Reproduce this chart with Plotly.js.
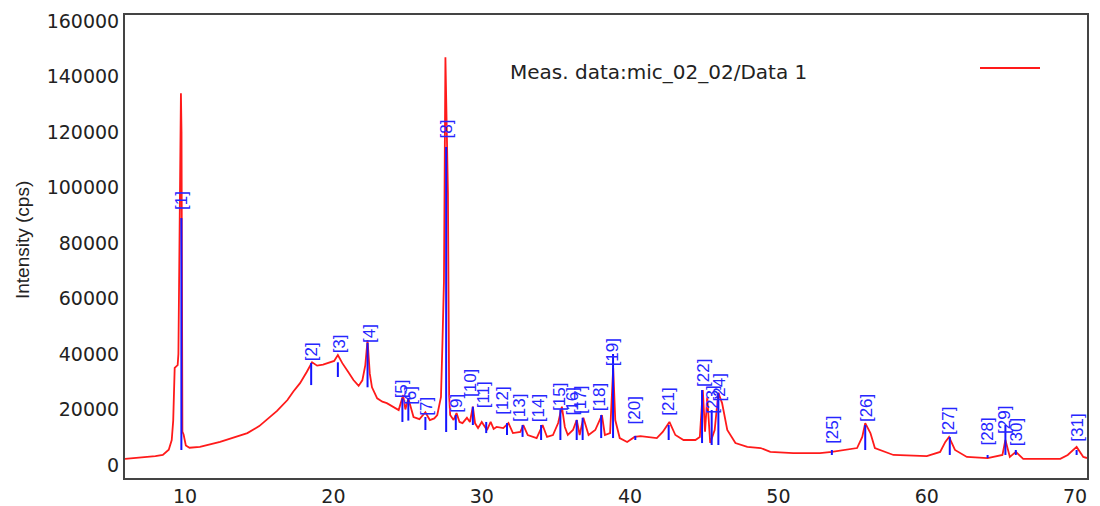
<!DOCTYPE html>
<html>
<head>
<meta charset="utf-8">
<script src="https://cdn.plot.ly/plotly-3.0.1.min.js"></script>
<style>
html,body{margin:0;padding:0;background:#fff;}
#chart{width:1100px;height:506px;}
</style>
</head>
<body>
<div id="chart"></div>
<script>
// Measured profile (2theta, intensity)
const twoTheta = [5.95,7.0,8.0,8.5,8.9,9.1,9.2,9.3,9.5,9.55,9.62,9.68,9.72,9.76,9.8,9.82,9.9,10.05,10.3,11.0,12.36,13.3,14.2,15.0,15.5,16.2,16.9,17.3,17.75,18.0,18.2,18.56,18.9,19.3,19.6,20.05,20.3,20.6,21.0,21.35,21.7,21.95,22.15,22.3,22.45,22.6,22.95,23.3,23.6,24.0,24.4,24.7,24.85,25.05,25.4,25.8,26.2,26.5,26.8,27.0,27.25,27.35,27.45,27.55,27.65,27.72,27.8,27.87,28.1,28.3,28.5,28.7,29.0,29.2,29.4,29.55,29.75,30.0,30.35,30.6,30.8,31.0,31.45,31.8,32.1,32.6,32.8,33.1,33.7,34.1,34.4,34.8,35.15,35.4,35.6,35.8,36.15,36.4,36.6,36.85,37.2,37.65,38.1,38.3,38.65,38.86,39.0,39.3,39.8,40.3,40.7,41.15,41.8,42.2,42.65,43.05,43.6,44.4,44.7,44.9,45.05,45.2,45.4,45.7,45.95,46.2,46.55,47.1,47.9,48.8,49.45,51.0,52.8,53.6,55.3,55.65,55.85,56.2,56.5,57.75,60.0,60.9,61.25,61.5,61.9,62.7,64.1,65.1,65.3,65.6,66.0,66.5,69.0,69.5,70.1,70.55,70.8];
const intensity = [2200,2600,3200,3600,5500,9000,16000,35000,36000,40000,80000,134000,134000,120000,60000,12000,11000,7000,6200,6500,8300,9800,11500,14000,16200,19500,23400,26500,29500,32000,33500,37000,35800,36200,36700,37500,39600,36700,33500,30600,28500,30500,36000,45000,33000,28000,24000,22800,22300,21000,19800,25200,20000,24000,17300,16500,19000,16200,16800,18000,24500,44000,66000,147000,120000,98000,25000,18000,16200,18700,15500,15100,17000,15500,21000,15000,13300,15500,12600,15500,13000,13700,13300,15100,11500,11900,14400,10800,9700,14400,10100,10800,15100,21000,13700,10800,12600,16200,10800,17000,10800,12600,18000,10800,11500,35000,16200,9700,8300,10100,10400,10100,9700,11900,15500,10800,9000,9000,10100,27000,12000,24500,7900,12600,26000,22300,12600,7900,6500,6100,4700,4300,4300,4700,6100,10100,15100,11500,6100,3600,3200,4700,8300,10100,5400,2900,2500,3600,9000,2900,4700,2200,2200,3600,6500,2900,2500];

// Identified peak markers
const peakLabels = ["[1]","[2]","[3]","[4]","[5]","[6]","[7]","[8]","[9]","[10]","[11]","[12]","[13]","[14]","[15]","[16]","[17]","[18]","[19]","[20]","[21]","[22]","[23]","[24]","[25]","[26]","[27]","[28]","[29]","[30]","[31]"];
const peakPos = [9.75,18.5,20.3,22.3,24.65,25.05,26.2,27.6,28.25,29.4,30.3,31.7,32.75,34.0,35.3,36.4,36.8,38.05,38.85,40.35,42.6,44.85,45.5,45.95,53.6,55.85,61.55,64.1,65.3,66.0,70.1];
const stickTop = [89000,36800,37000,44000,24000,24000,17300,114600,18000,21000,15500,15100,14400,14400,20000,16200,17000,18000,40000,10500,14400,27000,19800,26000,5400,14400,10100,3600,14400,5400,5400];
const stickBottom = [5400,28800,31700,28000,15500,16000,12600,11900,12600,14400,11500,10800,10100,9000,9000,9000,9000,9700,9700,9000,9000,7900,7200,7200,3600,5400,3600,2500,3600,3600,3600];
const labelPos = [9.72,18.5,20.4,22.4,24.65,25.15,26.3,27.6,28.3,29.2,30.1,31.4,32.5,33.8,35.25,36.1,36.7,37.9,38.8,40.3,42.6,44.95,45.5,46.0,53.6,55.9,61.5,64.1,65.2,66.1,70.1];
const labelHeight = [95500,40700,43600,47200,27400,25200,21300,121000,22300,29500,25200,23000,20500,20500,24400,23000,23500,24400,40700,19500,22700,33000,23400,28000,12600,20500,15900,11900,16200,11900,13300];

const xTicks = [10,20,30,40,50,60,70];
const yTicks = [0,20000,40000,60000,80000,100000,120000,140000,160000];
const legendText = "Meas. data:mic_02_02/Data 1";
const yTitle = "Intensity (cps)";

const sx = [], sy = [];
for (let i = 0; i < peakPos.length; i++) {
  sx.push(peakPos[i], peakPos[i], null);
  sy.push(stickBottom[i], stickTop[i], null);
}

const traces = [
  {x: twoTheta, y: intensity, type: 'scatter', mode: 'lines',
   line: {color: '#ff1a1a', width: 1.8}, hoverinfo: 'skip', showlegend: false},
  {x: sx, y: sy, type: 'scatter', mode: 'lines',
   line: {color: '#1414ff', width: 2}, hoverinfo: 'skip', showlegend: false}
];

const annotations = peakLabels.map((t, i) => ({
  x: labelPos[i], y: labelHeight[i], xref: 'x', yref: 'y', text: t,
  showarrow: false, textangle: -90,
  font: {family: 'Liberation Sans, Arial, sans-serif', size: 17, color: '#2626ff'}
}));
annotations.push({
  xref: 'paper', yref: 'paper', x: (508 - 125) / 962, y: (478 - 72) / 463,
  xanchor: 'left', yanchor: 'middle', text: legendText, showarrow: false,
  font: {family: 'DejaVu Sans, sans-serif', size: 20, color: '#222'}
});
annotations.push({
  xref: 'paper', yref: 'paper', x: (22 - 125) / 962, y: (478 - 240) / 463,
  xanchor: 'center', yanchor: 'middle', text: yTitle, showarrow: false, textangle: -90,
  font: {family: 'Liberation Sans, Arial, sans-serif', size: 19, color: '#222'}
});

const layout = {
  width: 1100, height: 506,
  margin: {l: 125, r: 13, t: 15, b: 28, pad: 0},
  paper_bgcolor: '#fff', plot_bgcolor: '#fff',
  showlegend: false,
  xaxis: {range: [5.95, 70.8], tickvals: xTicks, ticktext: xTicks.map(String),
          showgrid: false, zeroline: false, showline: true, mirror: true,
          linecolor: '#444', linewidth: 2, ticks: '',
          tickfont: {family: 'DejaVu Sans, sans-serif', size: 19, color: '#222'}},
  yaxis: {range: [-4700, 162200], tickvals: yTicks, ticktext: yTicks.map(String),
          showgrid: false, zeroline: false, showline: true, mirror: true,
          linecolor: '#444', linewidth: 2, ticks: '',
          tickfont: {family: 'DejaVu Sans, sans-serif', size: 19, color: '#222'}},
  annotations: annotations,
  shapes: [{type: 'line', xref: 'paper', yref: 'paper',
            x0: (980 - 125) / 962, x1: (1040 - 125) / 962,
            y0: (478 - 68) / 463, y1: (478 - 68) / 463,
            line: {color: '#ff1a1a', width: 2}}]
};

Plotly.newPlot('chart', traces, layout, {displayModeBar: false, staticPlot: true});
</script>
</body>
</html>
